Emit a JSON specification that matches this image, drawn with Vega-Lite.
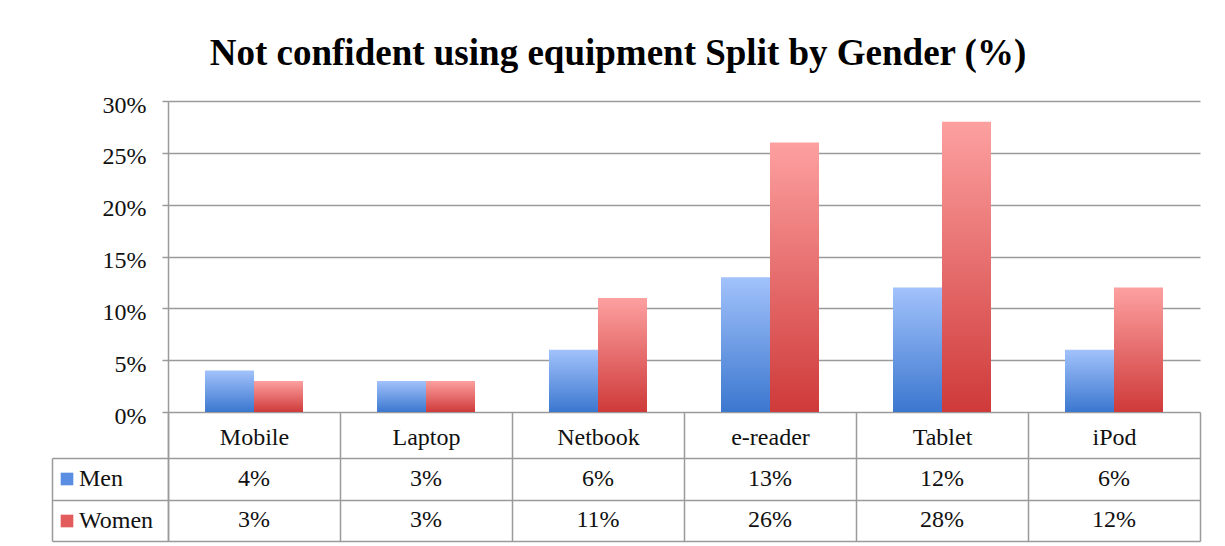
{
  "$schema": "https://vega.github.io/schema/vega-lite/v6.json",
  "width": 1032,
  "height": 440,
  "autosize": {"type": "none"},
  "padding": {"left": 168, "top": 101, "right": 25, "bottom": 5},
  "background": "white",
  "config": {"view": {"stroke": null}, "font": "Liberation Serif"},
  "title": {
    "text": "Not confident using equipment Split by Gender (%)",
    "font": "Liberation Serif",
    "fontSize": 37,
    "fontWeight": "bold",
    "color": "#000000",
    "anchor": "middle",
    "dx": -66,
    "baseline": "alphabetic",
    "offset": -9
  },
  "data": {
    "values": [
      {"category": "Mobile", "gender": "Men", "value": 0.04},
      {"category": "Mobile", "gender": "Women", "value": 0.03},
      {"category": "Laptop", "gender": "Men", "value": 0.03},
      {"category": "Laptop", "gender": "Women", "value": 0.03},
      {"category": "Netbook", "gender": "Men", "value": 0.06},
      {"category": "Netbook", "gender": "Women", "value": 0.11},
      {"category": "e-reader", "gender": "Men", "value": 0.13},
      {"category": "e-reader", "gender": "Women", "value": 0.26},
      {"category": "Tablet", "gender": "Men", "value": 0.12},
      {"category": "Tablet", "gender": "Women", "value": 0.28},
      {"category": "iPod", "gender": "Men", "value": 0.06},
      {"category": "iPod", "gender": "Women", "value": 0.12}
    ]
  },
  "layer": [
    {
      "layer": [
        {
          "transform": [{"filter": "datum.gender == 'Men'"}],
          "mark": {
            "type": "bar",
            "color": {"gradient": "linear", "x1": 0, "y1": 0, "x2": 0, "y2": 1, "stops": [{"offset": 0, "color": "#a2c2fb"}, {"offset": 1, "color": "#3b77cf"}]}
          },
          "encoding": {
            "x": {
              "field": "category",
              "type": "nominal",
              "sort": ["Mobile", "Laptop", "Netbook", "e-reader", "Tablet", "iPod"],
              "scale": {"paddingInner": 0, "paddingOuter": 0},
              "axis": {
                "orient": "bottom",
                "offset": -129,
                "title": null,
                "domain": false,
                "grid": false,
                "ticks": true,
                "tickBand": "extent",
                "tickSize": 129,
                "tickColor": "#9a9a9a",
                "tickWidth": 1.5,
                "labelAngle": 0,
                "labelPadding": -104,
                "labelBaseline": "middle",
                "labelFont": "Liberation Serif",
                "labelFontSize": 24,
                "labelColor": "#111111"
              }
            },
            "xOffset": {
              "field": "gender",
              "type": "nominal",
              "scale": {"domain": ["Men", "Women"], "paddingInner": 0, "paddingOuter": 0.755}
            },
            "y": {
              "field": "value",
              "type": "quantitative",
              "scale": {"domain": [-0.1244, 0.30], "nice": false, "zero": false},
              "axis": {
                "title": null,
                "values": [0, 0.05, 0.1, 0.15, 0.2, 0.25, 0.3],
                "format": ".0%",
                "grid": true,
                "gridColor": "#9a9a9a",
                "gridWidth": 1.5,
                "domain": true,
                "domainColor": "#9a9a9a",
                "domainWidth": 1.5,
                "tickSize": 6,
                "tickColor": "#9a9a9a",
                "tickWidth": 1.5,
                "labelPadding": 16,
                "labelOffset": 4,
                "labelFont": "Liberation Serif",
                "labelFontSize": 24,
                "labelColor": "#111111"
              }
            }
          }
        },
        {
          "transform": [{"filter": "datum.gender == 'Women'"}],
          "mark": {
            "type": "bar",
            "color": {"gradient": "linear", "x1": 0, "y1": 0, "x2": 0, "y2": 1, "stops": [{"offset": 0, "color": "#fda0a0"}, {"offset": 1, "color": "#cf3a3a"}]}
          },
          "encoding": {
            "x": {"field": "category", "type": "nominal", "sort": ["Mobile", "Laptop", "Netbook", "e-reader", "Tablet", "iPod"]},
            "xOffset": {"field": "gender", "type": "nominal"},
            "y": {"field": "value", "type": "quantitative"}
          }
        },
        {
          "mark": {"type": "point", "filled": true, "size": 0, "opacity": 0},
          "encoding": {
            "x": {"field": "category", "type": "nominal", "sort": ["Mobile", "Laptop", "Netbook", "e-reader", "Tablet", "iPod"]},
            "y": {"field": "value", "type": "quantitative"},
            "color": {
              "field": "gender",
              "type": "nominal",
              "scale": {"domain": ["Men", "Women"], "range": ["#5a8ee3", "#e25c5c"]},
              "legend": {
                "orient": "none",
                "legendX": -113,
                "legendY": 366,
                "title": null,
                "symbolType": "square",
                "symbolSize": 160,
                "symbolOpacity": 1,
                "symbolStrokeWidth": 0,
                "labelFont": "Liberation Serif",
                "labelFontSize": 24,
                "labelColor": "#111111",
                "labelOffset": 0,
                "rowPadding": 18
              }
            }
          }
        }
      ]
    },
    {
      "layer": [
        {
          "mark": {"type": "text", "font": "Liberation Serif", "fontSize": 24, "color": "#111111", "baseline": "middle"},
          "encoding": {
            "x": {
              "field": "category",
              "type": "nominal",
              "sort": ["Mobile", "Laptop", "Netbook", "e-reader", "Tablet", "iPod"]
            },
            "y": {
              "field": "gender",
              "type": "nominal",
              "scale": {"type": "band", "domain": ["Men", "Women"], "range": [357, 440], "paddingInner": 0, "paddingOuter": 0},
              "axis": {
                "orient": "left",
                "offset": 116,
                "title": null,
                "labels": false,
                "tickBand": "extent",
                "tickSize": -116,
                "tickColor": "#9a9a9a",
                "tickWidth": 1.5,
                "grid": true,
                "gridColor": "#9a9a9a",
                "gridWidth": 1.5,
                "domain": true,
                "domainColor": "#9a9a9a",
                "domainWidth": 1.5,
                "minExtent": 0
              }
            },
            "text": {"field": "value", "type": "quantitative", "format": ".0%"}
          }
        }
      ]
    }
  ],
  "resolve": {"scale": {"y": "independent"}}
}
